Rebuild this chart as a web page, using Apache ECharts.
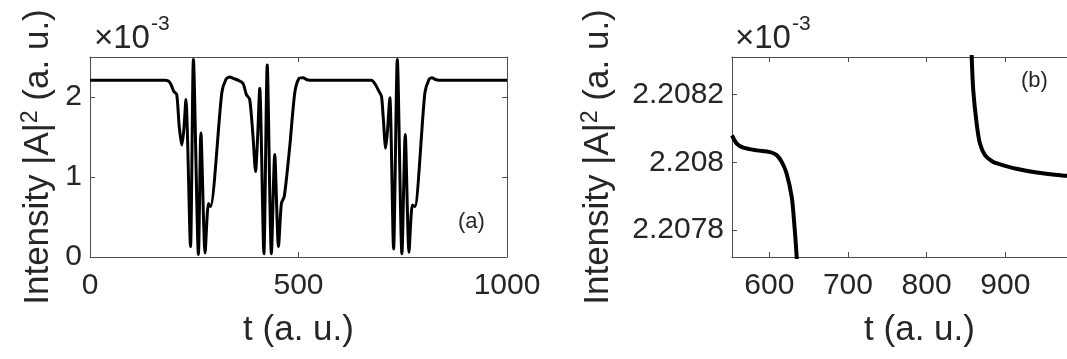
<!DOCTYPE html>
<html>
<head>
<meta charset="utf-8">
<script src="https://cdn.jsdelivr.net/npm/echarts@6/dist/echarts.min.js"></script>
<style>
  html, body { margin: 0; padding: 0; background: #fff; }
  #chart { width: 1067px; height: 359px; }
</style>
</head>
<body>
<div id="chart"></div>
<script>
// panel (a): intensity in units of 1e-3 over t
const leftT = [0, 180, 186, 193, 201, 208, 214, 220, 225, 230, 241, 248, 260, 266, 276, 284, 289, 316, 326, 335, 345, 355, 367, 375, 383, 391, 397, 402, 407, 417, 425, 435, 443, 452, 459, 466, 479, 491, 501, 511, 520, 535, 675, 685, 693, 699, 703, 709, 713, 719, 728, 737, 748, 756, 765, 773, 779, 803, 813, 820, 830, 845, 1000];
const leftV = [2.208, 2.208, 2.205, 2.17, 2.07, 2.03, 1.63, 1.40, 1.59, 1.97, 0.13, 2.47, 0.03, 1.55, 0.05, 0.67, 0.63, 2.05, 2.22, 2.25, 2.23, 2.21, 2.17, 2.03, 1.97, 1.5, 1.07, 1.5, 2.11, 0.04, 2.40, 0.04, 1.28, 0.13, 0.67, 0.76, 1.38, 2.05, 2.23, 2.24, 2.215, 2.208, 2.208, 2.15, 2.07, 2.01, 1.76, 1.36, 1.55, 1.99, 0.10, 2.47, 0.04, 1.53, 0.06, 0.65, 0.63, 2.05, 2.22, 2.24, 2.215, 2.208, 2.208];
const leftXTicks = [0, 500, 1000];
const leftYTicks = [0, 1, 2];

// panel (b): zoom on the flat part, two pieces of the curve
const rightT1 = [552.6, 558.6, 567, 584, 601, 609.4, 615.8, 622, 628.5, 631.4, 634.8, 636.5];
const rightV1 = [2.208079, 2.208055, 2.208043, 2.208035, 2.20803, 2.208021, 2.208001, 2.207967, 2.207898, 2.207829, 2.207721, 2.2076];
const rightT2 = [856.4, 857.3, 859.3, 863.6, 867.8, 874.2, 884.7, 893.3, 914, 940, 978, 1000];
const rightV2 = [2.2084, 2.20831, 2.208212, 2.208114, 2.208055, 2.208021, 2.208001, 2.207994, 2.207981, 2.20797, 2.20796, 2.207955];
const rightXTicks = [600, 700, 800, 900];
const rightYTicks = [2.2078, 2.208, 2.2082];

const txt = "#262626";
const axisCol = "#4d4d4d";
const font = "Liberation Sans, Arial, sans-serif";

function pairs(xs, ys) {
  return xs.map((x, i) => [x, ys[i]]);
}

function xAxisCfg(grid, min, max, ticks, pos, showLabel) {
  return {
    type: "value", gridIndex: grid, position: pos, min: min, max: max,
    name: showLabel ? "t (a. u.)" : "",
    nameLocation: "middle", nameGap: 56,
    nameTextStyle: { color: txt, fontSize: 35, fontFamily: font },
    splitLine: { show: false },
    axisLine: { show: true, onZero: false, lineStyle: { color: axisCol, width: 1 } },
    axisTick: { show: true, inside: true, length: 5, customValues: ticks, lineStyle: { color: axisCol } },
    axisLabel: {
      show: showLabel, customValues: ticks, color: txt, fontSize: 30, fontFamily: font, margin: 14,
      formatter: (v) => String(v),
    },
  };
}

function yAxisCfg(grid, min, max, ticks, pos, showLabel, gap) {
  return {
    type: "value", gridIndex: grid, position: pos, min: min, max: max,
    name: showLabel ? "Intensity |A|{sup|2} (a. u.)" : "",
    nameLocation: "middle", nameGap: gap,
    nameTextStyle: {
      color: txt, fontSize: 35, fontFamily: font,
      rich: { sup: { fontSize: 23, fontFamily: font, color: txt, padding: [0, 0, 16, 0] } },
    },
    splitLine: { show: false },
    axisLine: { show: true, onZero: false, lineStyle: { color: axisCol, width: 1 } },
    axisTick: { show: true, inside: true, length: 5, customValues: ticks, lineStyle: { color: axisCol } },
    axisLabel: {
      show: showLabel, customValues: ticks, color: txt, fontSize: 30, fontFamily: font, margin: 8,
      formatter: (v) => String(Number(v.toFixed(4))),
    },
  };
}

let chartDom = document.getElementById("chart");
let myChart = echarts.init(chartDom);
let option = {
  animation: false,
  backgroundColor: "#fff",
  grid: [
    { left: 90, top: 57, width: 417, height: 200, outerBoundsMode: "none" },
    { left: 732, top: 57, width: 375, height: 200, outerBoundsMode: "none" },
  ],
  xAxis: [
    xAxisCfg(0, 0, 1000, leftXTicks, "bottom", true),
    xAxisCfg(0, 0, 1000, leftXTicks, "top", false),
    xAxisCfg(1, 552.6, 1029.3, rightXTicks, "bottom", true),
    xAxisCfg(1, 552.6, 1029.3, rightXTicks, "top", false),
  ],
  yAxis: [
    yAxisCfg(0, 0, 2.5, leftYTicks, "left", true, 32),
    yAxisCfg(0, 0, 2.5, leftYTicks, "right", false, 0),
    yAxisCfg(1, 2.207721, 2.20831, rightYTicks, "left", true, 114),
  ],
  series: [
    {
      type: "line", xAxisIndex: 0, yAxisIndex: 0, data: pairs(leftT, leftV),
      showSymbol: false, smooth: 0.25, lineStyle: { color: "#000", width: 3 },
    },
    {
      type: "line", xAxisIndex: 2, yAxisIndex: 2, data: pairs(rightT1, rightV1),
      showSymbol: false, smooth: 0.3, clip: true, lineStyle: { color: "#000", width: 4 },
    },
    {
      type: "line", xAxisIndex: 2, yAxisIndex: 2, data: pairs(rightT2, rightV2),
      showSymbol: false, smooth: 0.3, clip: true, lineStyle: { color: "#000", width: 4 },
    },
  ],
  graphic: [
    { type: "text", left: 94, top: 22, style: { text: "×10", fill: txt, font: "33px " + font } },
    { type: "text", left: 151, top: 14, style: { text: "-3", fill: txt, font: "21px " + font } },
    { type: "text", left: 735, top: 22, style: { text: "×10", fill: txt, font: "33px " + font } },
    { type: "text", left: 792, top: 14, style: { text: "-3", fill: txt, font: "21px " + font } },
    { type: "text", left: 458, top: 211, style: { text: "(a)", fill: txt, font: "22px " + font } },
    { type: "text", left: 1021, top: 70, style: { text: "(b)", fill: txt, font: "22px " + font } },
  ],
};
option && myChart.setOption(option);
</script>
</body>
</html>
